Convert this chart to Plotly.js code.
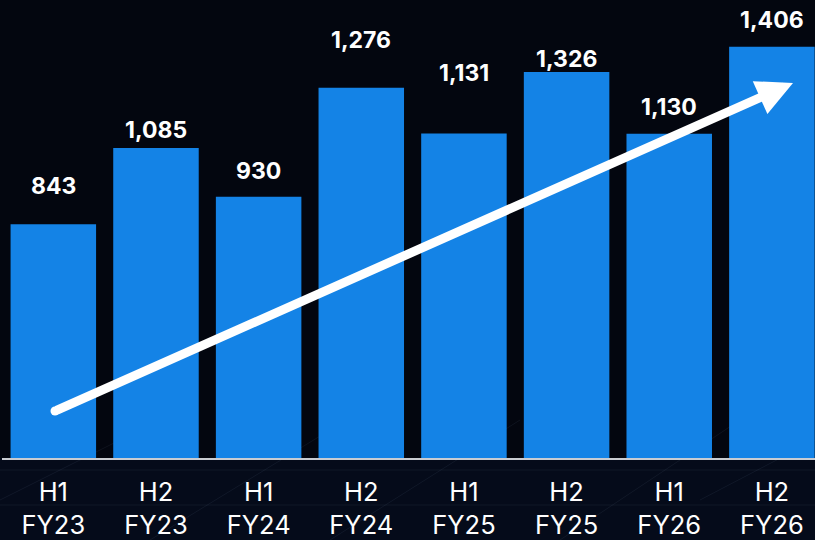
<!DOCTYPE html>
<html>
<head>
<meta charset="utf-8">
<script src="https://cdn.plot.ly/plotly-3.0.1.min.js"></script>
<style>
html,body{margin:0;padding:0;background:#03060f;}
#chart{width:815px;height:540px;}
</style>
</head>
<body>
<div id="chart"></div>
<script>
// Data
var halves = ["H1", "H2", "H1", "H2", "H1", "H2", "H1", "H2"];
var fiscalYears = ["FY23", "FY23", "FY24", "FY24", "FY25", "FY25", "FY26", "FY26"];
var values = [843, 1085, 930, 1276, 1131, 1326, 1130, 1406];

// Styles / label offsets (pixels above bar top)
var labelShift = [38, 18, 26, 48, 60, 13, 27, 27];

var xIdx = values.map(function(_, i){ return i; });
var tickText = halves.map(function(h, i){ return h + "<br>" + fiscalYears[i]; });

var trace = {
  type: "bar",
  x: xIdx,
  y: values,
  marker: {color: "#1483e6", line: {width: 0}},
  hoverinfo: "skip"
};

var annotations = values.map(function(v, i){
  return {
    x: i, y: v, xref: "x", yref: "y",
    text: v.toLocaleString("en-US"),
    showarrow: false,
    yanchor: "middle",
    yshift: labelShift[i],
    font: {family: "Inter, 'Open Sans', sans-serif", size: 23, color: "#ffffff", weight: 700}
  };
});

var W = 815, H = 540, L = 2, T = 0, B = 82;
var pw = W - L, ph = H - T - B;
function px(x){ return (x - L) / pw; }
function py(y){ return 1 - (y - T) / ph; }

// trend arrow
annotations.push({
  xref: "paper", yref: "paper",
  x: px(793), y: py(83),
  ax: 55 - 793, ay: 411 - 83,
  axref: "pixel", ayref: "pixel",
  text: "", showarrow: true,
  arrowhead: 2, arrowsize: 0.8, arrowwidth: 9,
  arrowcolor: "#ffffff", standoff: 0, startstandoff: 0
});

var shapes = [
  // bottom darker navy band below the axis
  {type: "rect", xref: "paper", yref: "paper", x0: -0.01, x1: 1.01, y0: py(540), y1: py(458),
   fillcolor: "#050b1a", line: {width: 0}, layer: "below"},
  // round cap at the arrow tail
  {type: "circle", xref: "paper", yref: "paper",
   x0: px(50.5), x1: px(59.5), y0: py(415.5), y1: py(406.5),
   fillcolor: "#ffffff", line: {width: 0}}
];
// faint solar-panel lines in the background
var faint = [[0,500,140,430],[150,540,330,430],[330,540,520,420],[560,540,740,420],[700,500,815,440],
             [0,470,815,470],[0,505,815,505]];
faint.forEach(function(s){
  shapes.push({type: "line", xref: "paper", yref: "paper",
    x0: px(s[0]), y0: py(s[1]), x1: px(s[2]), y1: py(s[3]),
    line: {color: "rgba(120,140,170,0.10)", width: 1}, layer: "below"});
});

var layout = {
  width: W, height: H,
  margin: {l: L, r: 0, t: T, b: B, pad: 0},
  paper_bgcolor: "#03060f",
  plot_bgcolor: "rgba(0,0,0,0)",
  bargap: 0.167,
  showlegend: false,
  xaxis: {
    range: [-0.5, 7.42],
    tickmode: "array", tickvals: xIdx, ticktext: tickText,
    showgrid: false, zeroline: false,
    showline: true, linecolor: "#c9ccd2", linewidth: 2,
    ticks: "", ticklabelstandoff: 10,
    tickfont: {family: "Inter, 'Open Sans', sans-serif", size: 25.5, color: "#ffffff"},
    fixedrange: true
  },
  yaxis: {
    range: [102, 1554],
    visible: false, showgrid: false, zeroline: false, fixedrange: true
  },
  annotations: annotations,
  shapes: shapes
};

Plotly.newPlot("chart", [trace], layout, {displayModeBar: false, staticPlot: true});
</script>
</body>
</html>
